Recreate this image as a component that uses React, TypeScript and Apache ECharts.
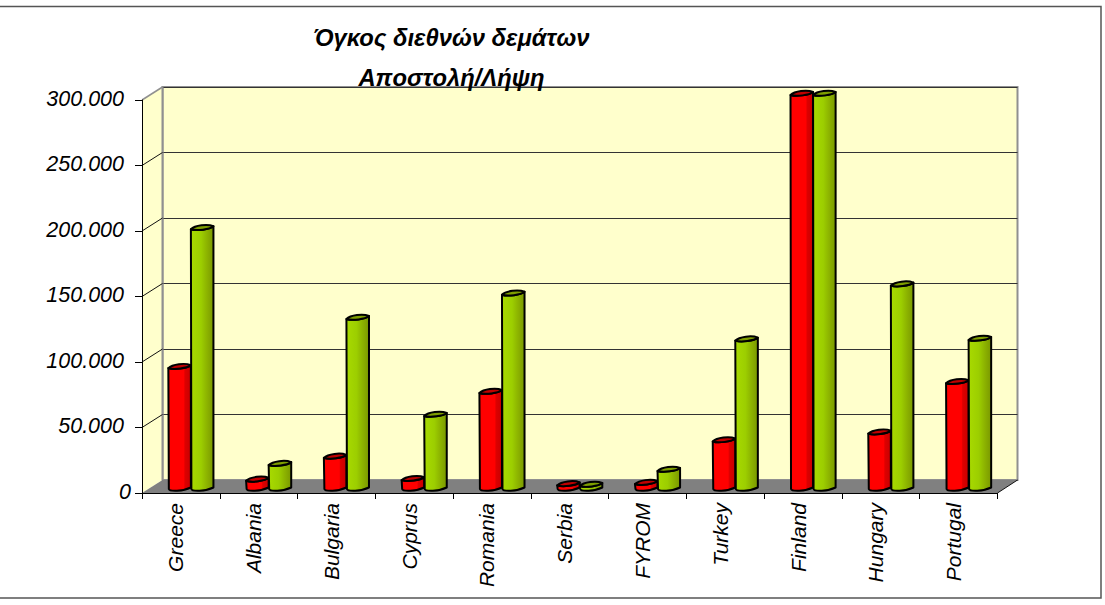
import React, { useEffect, useRef } from "react";
import * as echarts from "echarts";

const categories = ["Greece","Albania","Bulgaria","Cyprus","Romania","Serbia","FYROM","Turkey","Finland","Hungary","Portugal"];
const sentValues = [91500,5500,23000,6000,72500,2000,3000,35500,300000,41500,80000];
const receivedValues = [197500,17500,129000,55000,147500,1500,13000,112500,300000,154500,113000];
const yTicks = [50000,100000,150000,200000,250000];
const titleLines = ["Όγκος διεθνών δεμάτων","Αποστολή/Λήψη"];

const FONT = "'Liberation Sans', Arial, sans-serif";
const FRONT = { left: 142, top: 100, width: 855.5, height: 393 };
const LABELS = { left: 137, top: 100, width: 855.5, height: 393 };
const BACK = { left: 162.5, top: 87, width: 855, height: 393 };
const MID = { left: 152, top: 93.5, width: 855.5, height: 393 };

echarts.graphic.registerShape("cylBody", echarts.graphic.extendShape({
  shape: { cx: 0, yt: 0, yb: 0, r: 10 },
  buildPath(ctx: any, s: any) {
    const { cx, yt, yb, r } = s;
    ctx.moveTo(cx - r, yt + 1.5);
    ctx.lineTo(cx - r + 0.5, yb + 2.5);
    ctx.bezierCurveTo(cx - r + 1, yb + 5, cx + r - 8, yb + 5, cx + r, yb + 1);
    ctx.lineTo(cx + r, yt - 1.5);
    ctx.bezierCurveTo(cx + r - 4, yt + 1.5, cx - r + 6, yt + 3.5, cx - r, yt + 1.5);
    ctx.closePath();
  },
}));
echarts.graphic.registerShape("cylTop", echarts.graphic.extendShape({
  shape: { cx: 0, yt: 0, r: 10 },
  buildPath(ctx: any, s: any) {
    const { cx, yt, r } = s;
    ctx.moveTo(cx - r, yt + 1.5);
    ctx.bezierCurveTo(cx - r + 4, yt - 2.5, cx + r - 6, yt - 4, cx + r, yt - 1.5);
    ctx.bezierCurveTo(cx + r - 4, yt + 1.5, cx - r + 6, yt + 3.5, cx - r, yt + 1.5);
    ctx.closePath();
  },
}));

const bodyFill = (stops: [number, string][]) =>
  new echarts.graphic.LinearGradient(0, 0, 1, 0, stops.map(([offset, color]) => ({ offset, color })));
const RED = bodyFill([[0,"#FF0000"],[0.68,"#FF0000"],[0.74,"#DC0000"],[1,"#C80000"]]);
const GREEN = bodyFill([[0,"#A8DA00"],[0.45,"#9CCE00"],[0.7,"#8DB400"],[1,"#7A9800"]]);

const cylinder = (shift: number, fill: any, cap: string) => (params: any, api: any) => {
  const band = api.size([1, 0])[0];
  const [x, yt] = api.coord([api.value(0), api.value(1)]);
  const [, yb] = api.coord([api.value(0), 0]);
  const r = band * 0.145;
  const cx = x + shift * r;
  const stroke = { stroke: "#000", lineWidth: 2, lineJoin: "round" };
  return {
    type: "group",
    children: [
      { type: "cylBody", shape: { cx, yt, yb, r }, style: { fill, ...stroke } },
      { type: "cylTop", shape: { cx, yt, r }, style: { fill: cap, ...stroke } },
    ],
  };
};

const depthLine = (y: number) => ({
  type: "line", z: 1, silent: true,
  shape: { x1: FRONT.left, y1: y, x2: BACK.left, y2: y - (FRONT.top - BACK.top) },
  style: { stroke: "#111", lineWidth: 1 },
});

export default function App() {
  const ref = useRef<HTMLDivElement>(null);
  useEffect(() => {
    document.body.style.margin = "0";
    const chart = echarts.init(ref.current!, null, { renderer: "svg" });
    const fb = FRONT.top + FRONT.height, bb = BACK.top + BACK.height;
    const fr = FRONT.left + FRONT.width, br = BACK.left + BACK.width;
    const hiddenX = { type: "category", data: categories, show: false };
    const hiddenY = { type: "value", min: 0, max: 300000, interval: 50000, show: false };
    const labelStyle = { fontFamily: FONT, fontStyle: "italic", color: "#000" };
    chart.setOption({
      animation: false,
      backgroundColor: "#fff",
      title: titleLines.map((text, i) => ({
        text, left: 446.5, top: [20, 60][i], textAlign: "center",
        textStyle: { fontFamily: FONT, fontSize: 23.75, fontWeight: "bold", fontStyle: "italic", color: "#000" },
        z: 20,
      })),
      grid: [
        { ...FRONT },
        { ...BACK, show: true, backgroundColor: "#FFFFCC", borderColor: "#909090", borderWidth: 2 },
        { ...MID },
        { ...LABELS },
      ],
      xAxis: [
        { type: "category", data: categories, gridIndex: 0,
          axisLine: { show: true, lineStyle: { color: "#000", width: 1 } },
          axisTick: { show: true, length: 6, alignWithLabel: false, lineStyle: { color: "#000" } },
          axisLabel: { show: false },
          z: 5 },
        { ...hiddenX, gridIndex: 1 },
        { ...hiddenX, gridIndex: 2 },
        { type: "category", data: categories, gridIndex: 3,
          axisLine: { show: false }, axisTick: { show: false },
          axisLabel: { ...labelStyle, rotate: 90, interval: 0, margin: 10, fontSize: 21 } },
      ],
      yAxis: [
        { type: "value", min: 0, max: 300000, interval: 50000, gridIndex: 0,
          splitLine: { show: false },
          axisLine: { show: true, lineStyle: { color: "#000", width: 1 } },
          axisTick: { show: true, length: 7, lineStyle: { color: "#000" } },
          axisLabel: { ...labelStyle, margin: 11, fontSize: 21.5,
            formatter: (v: number) => (v === 0 ? "{z|0}" : `{n|${v / 1000}.000}`),
            rich: {
              n: { ...labelStyle, fontSize: 21.5, padding: [0, 7, 3, 0] },
              z: { ...labelStyle, fontSize: 21.5, padding: [0, 0, 3, 0] },
            } },
          z: 5 },
        { ...hiddenY, gridIndex: 1, show: true, axisLine: { show: false }, axisTick: { show: false }, axisLabel: { show: false },
          splitLine: { show: true, lineStyle: { color: "#333", width: 1 } } },
        { ...hiddenY, gridIndex: 2 },
        { ...hiddenY, gridIndex: 3 },
      ],
      graphic: [
        { type: "polygon", z: 1, silent: true, shape: { points: [[FRONT.left, FRONT.top],[BACK.left, BACK.top],[BACK.left, bb],[FRONT.left, fb]] },
          style: { fill: "#FFFFCC" } },
        { type: "line", z: 1, silent: true, shape: { x1: FRONT.left, y1: FRONT.top, x2: BACK.left, y2: BACK.top }, style: { stroke: "#909090", lineWidth: 1.5 } },
        { type: "polygon", z: 1, silent: true, shape: { points: [[FRONT.left, fb],[BACK.left, bb],[br, bb],[fr, fb]] },
          style: { fill: "#808080" } },
        { type: "line", z: 1, silent: true, shape: { x1: BACK.left, y1: BACK.top, x2: BACK.left, y2: bb }, style: { stroke: "#909090", lineWidth: 2 } },
        ...yTicks.map((t) => depthLine(fb - (t / 300000) * FRONT.height)),
        { type: "line", z: 1, silent: true, shape: { x1: fr, y1: fb, x2: br, y2: bb }, style: { stroke: "#111", lineWidth: 1 } },
        { type: "rect", z: 30, silent: true, shape: { x: -2, y: 6.5, width: 1103, height: 591.5 },
          style: { fill: "none", stroke: "#555", lineWidth: 1.5 } },
      ],
      series: [
        { type: "custom", xAxisIndex: 2, yAxisIndex: 2, z: 3, clip: false,
          data: sentValues.map((v, i) => [i, v]), renderItem: cylinder(-1, RED, "#C00000") },
        { type: "custom", xAxisIndex: 2, yAxisIndex: 2, z: 4, clip: false,
          data: receivedValues.map((v, i) => [i, v]), renderItem: cylinder(1, GREEN, "#7E9E00") },
      ],
    });
    return () => chart.dispose();
  }, []);
  return <div ref={ref} style={{ position: "fixed", left: 0, top: 0, width: 1105, height: 605 }} />;
}
